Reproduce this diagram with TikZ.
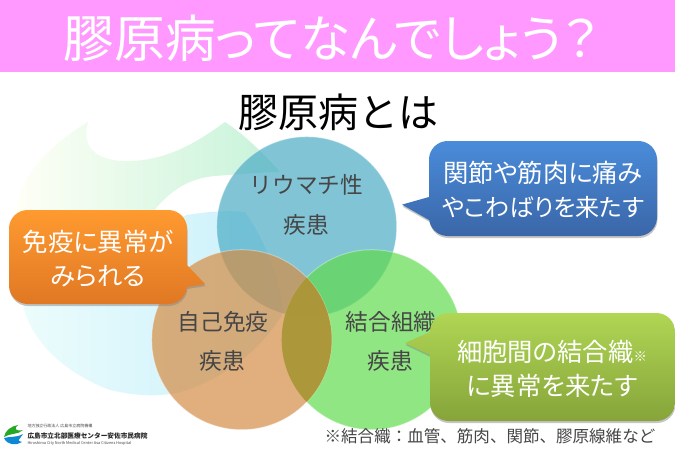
\documentclass[tikz,border=0pt]{standalone}
\usepackage{fontspec}
\setmainfont{Noto Sans CJK JP}
\newfontfamily\palfont[RawFeature=+palt]{Noto Sans CJK JP}
\usetikzlibrary{shadows}
\definecolor{titlepink}{RGB}{255,153,255}
\definecolor{inkgray}{RGB}{70,70,70}
\definecolor{markpale}{RGB}{255,255,246}
\definecolor{markyellow}{RGB}{255,252,205}
\definecolor{markgreen}{RGB}{198,243,218}
\definecolor{markcyan}{RGB}{236,252,252}
\definecolor{markblue}{RGB}{200,240,251}
\tikzset{every picture/.style={line width=0.75pt}}
\tikzset{
  venn/.style={circle,minimum size=135pt,inner sep=0pt,outer sep=0pt,draw=white,draw opacity=0.35,fill opacity=0.7},
  venntext/.style={inner sep=0.75pt,text=inkgray,font=\fontsize{17}{17}\selectfont},
  calloutbox/.style={drop shadow={opacity=0.45,shadow xshift=0.4pt,shadow yshift=-1.5pt}},
  callouttext/.style={inner sep=0.75pt,text=white,align=center,font=\palfont\fontsize{19}{25.5}\selectfont}
}
\begin{document}
\begin{tikzpicture}[x=0.75pt,y=0.75pt,yscale=-1,xscale=1]
\useasboundingbox (0,0) rectangle (675,450);
\fill [white] (0,0) rectangle (675,450);

%Title bar
\fill [titlepink] (0,0) rectangle (675,72);
% Text Node
\node (title) [inner sep=0.75pt,text=white,font=\palfont\fontsize{38}{38}\selectfont] at (331,38) {膠原病ってなんでしょう？};
% Text Node
\node (subtitle) [inner sep=0.75pt,text=black,font=\fontsize{30}{30}\selectfont] at (338,112) {膠原病とは};

%Watermark upper
\shade [left color=markpale,middle color=markyellow,right color=markgreen] (88,122) .. controls (50,145) and (22,175) .. (17,205) .. controls (15,235) and (18,265) .. (25,290) -- (150,290) -- (153,212) .. controls (170,190) and (190,178) .. (215,176) .. controls (240,174) and (265,172) .. (280,172) .. controls (265,155) and (245,135) .. (225,122) .. controls (200,140) and (170,160) .. (130,161) .. controls (100,162) and (80,150) .. (88,122) -- cycle;
%Watermark lower
\shade [left color=markcyan,right color=markblue] (245,212) .. controls (225,210) and (205,212) .. (187,215) .. controls (130,235) and (70,270) .. (22,300) .. controls (30,345) and (70,375) .. (110,390) .. controls (140,397) and (160,396) .. (177,393) .. controls (225,380) and (265,345) .. (283,313) .. controls (280,280) and (265,240) .. (245,212) -- cycle;

%Circles
\node (rheuma) [venn,fill={rgb,255:red,75;green,172;blue,198}] at (306.7,226.7) {};
\node (connective) [venn,fill={rgb,255:red,98;green,220;blue,77}] at (371.7,339.7) {};
\node (autoimmune) [venn,fill={rgb,255:red,213;green,141;blue,70}] at (241.7,339.7) {};
\begin{scope}
\clip (241.7,339.7) circle [radius=90];
\fill [fill={rgb,255:red,170;green,150;blue,55},fill opacity=0.9] (371.7,339.7) circle [radius=90];
\end{scope}

% Text Node
\node (rheumaA) [venntext] at (306.5,185) {リウマチ性};
\node (rheumaB) [venntext] at (306.5,225) {疾患};
\node (autoimmuneA) [venntext] at (223,322) {自己免疫};
\node (autoimmuneB) [venntext] at (222.5,361) {疾患};
\node (connectiveA) [venntext] at (391,322) {結合組織};
\node (connectiveB) [venntext] at (390.5,361) {疾患};

%Callout blue
\shade [calloutbox,top color={rgb,255:red,74;green,140;blue,218},bottom color={rgb,255:red,58;green,102;blue,168}] [rounded corners=14] (429,141) -- (657,141) -- (657,236) -- (429,236) [sharp corners] -- (429,220) -- (402,204.6) -- (429,197) [rounded corners=14] -- cycle;
% Text Node
\node (bluetext) [callouttext] at (543,190) {関節や筋肉に痛み\\{\fontsize{18}{25.5}\selectfont やこわばりを来たす}};

%Callout orange
\shade [calloutbox,top color={rgb,255:red,255;green,154;blue,48},bottom color={rgb,255:red,224;green,120;blue,36}] [rounded corners=14] (9,210) -- (187,210) [sharp corners] -- (187,265) -- (205,284) -- (187,287) [rounded corners=14] -- (187,304) -- (9,304) -- cycle;
% Text Node
\node (orangetext) [callouttext] at (98,258.5) {免疫に異常が\\みられる};

%Callout green
\shade [calloutbox,top color={rgb,255:red,176;green,214;blue,84},bottom color={rgb,255:red,134;green,164;blue,58}] [rounded corners=14] (430,313) -- (675,313) -- (675,421) -- (430,421) [sharp corners] -- (430,355) -- (405,343) -- (430,332) [rounded corners=14] -- cycle;
% Text Node
\node (greentext) [callouttext] at (552,368.5) {細胞間の結合織{\fontsize{10}{10}\selectfont ※}\\に異常を来たす};

% Text Node
\node (footnote) [inner sep=0.75pt,text=inkgray,font=\fontsize{12.4}{12.4}\selectfont] at (490,436) {※結合織：血管、筋肉、関節、膠原線維など};

%Logo
\fill [green!60!black!85] (4,437) .. controls (5,430) and (12,426) .. (18,425) .. controls (14,428) and (15,432) .. (23,430) .. controls (18,435) and (10,433) .. (4,437) -- cycle;
\fill [cyan!70!blue] (4,438) .. controls (10,436) and (16,438) .. (23,434) .. controls (20,439) and (16,441) .. (22,442) .. controls (16,446) and (7,445) .. (4,438) -- cycle;
% Text Node
\node (logoA) [inner sep=0pt,anchor=west,text=inkgray,font=\fontsize{3}{3}\selectfont] at (27,426) {地方独立行政法人 広島市立病院機構};
\node (logoB) [inner sep=0pt,anchor=west,text=black!85,font=\fontsize{5}{5}\selectfont\bfseries] at (27,435.5) {広島市立北部医療センター安佐市民病院};
\node (logoC) [inner sep=0pt,anchor=west,text=inkgray,font=\fontsize{2.9}{3}\selectfont] at (27,443) {Hiroshima City North Medical Center Asa Citizens Hospital};
\end{tikzpicture}
\end{document}
